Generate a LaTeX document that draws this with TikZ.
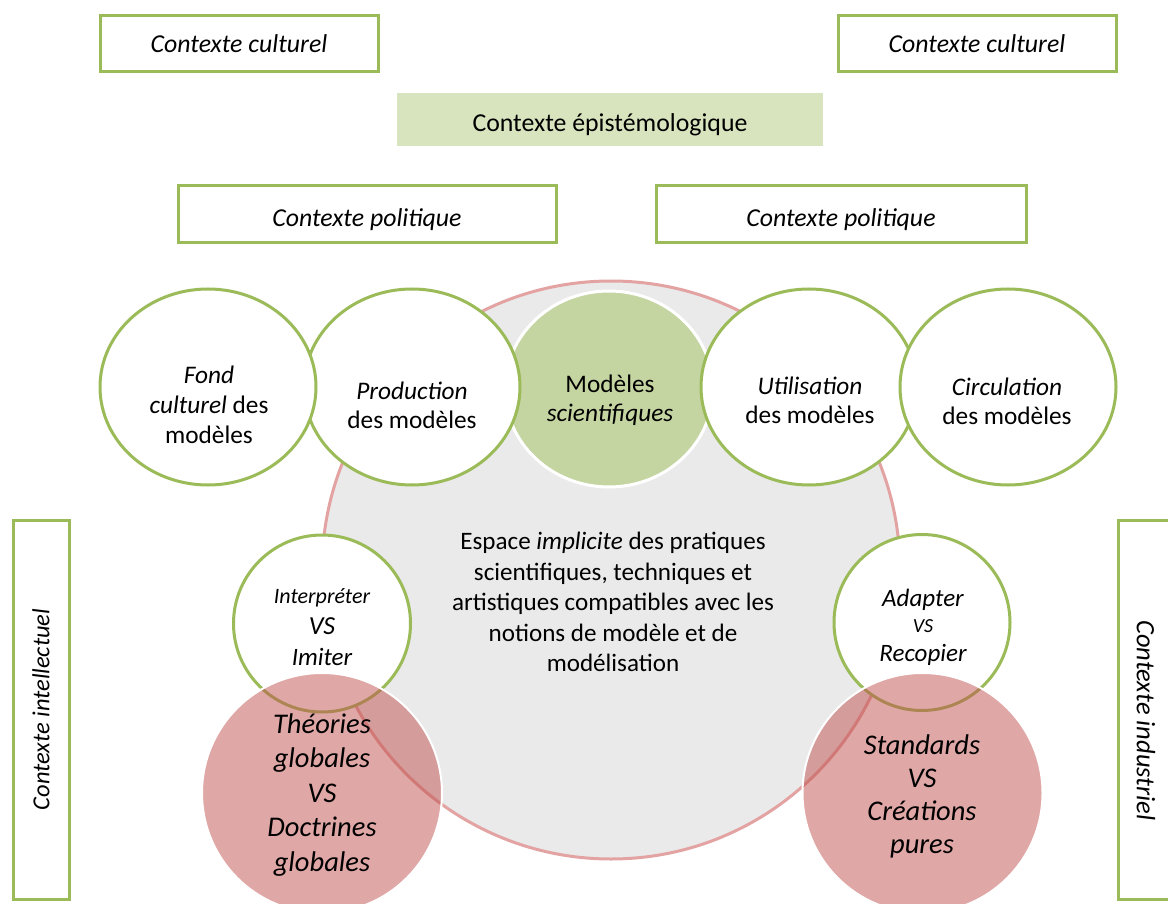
\documentclass[tikz,border=0pt]{standalone}
\usepackage{fontspec}
\setmainfont{Carlito}
\usetikzlibrary{shapes.geometric}
\definecolor{vert}{HTML}{9BBB59}
\definecolor{vertpale}{HTML}{D7E4BD}
\definecolor{vertmod}{HTML}{C5D5A2}
\definecolor{gris}{HTML}{EAEAEA}
\definecolor{rosebord}{HTML}{E4A3A3}
\definecolor{rouge}{HTML}{C0504D}
\begin{document}
\begin{tikzpicture}[x=1pt,y=-1pt,
  ctx/.style={draw=vert,line width=3pt,fill=white,inner sep=0pt,font=\fontsize{25.8}{30}\selectfont\itshape},
  bulle/.style={ellipse,draw=vert,line width=3pt,fill=white,inner sep=0pt,minimum width=216pt,minimum height=196pt},
  petit/.style={circle,draw=vert,line width=3pt,fill=white,inner sep=0pt,minimum size=177pt},
  rose/.style={circle,fill=rouge,fill opacity=0.5,draw=white,line width=2pt,inner sep=0pt,minimum size=240pt},
  txt/.style={align=center,inner sep=0pt,font=\fontsize{25.3}{29}\selectfont},
  grand/.style={align=center,inner sep=0pt,font=\fontsize{28.5}{34.5}\selectfont\itshape}
]
\useasboundingbox (0,0) rectangle (1168,904);
% context boxes
\node[ctx,minimum width=278pt,minimum height=56pt] (cc1) at (239,44) {Contexte culturel};
\node[ctx,minimum width=278pt,minimum height=56pt] (cc2) at (977,44) {Contexte culturel};
\node[fill=vertpale,inner sep=0pt,minimum width=426pt,minimum height=53pt,text height=30pt,text depth=5pt,font=\fontsize{25.8}{30}\selectfont] (epi) at (610,119.5) {Contexte épistémologique};
\node[ctx,minimum width=378pt,minimum height=57pt,text height=31pt,text depth=6pt] (cp1) at (367,214.5) {Contexte politique};
\node[ctx,minimum width=370pt,minimum height=57pt,text height=31pt,text depth=6pt] (cp2) at (841,214.5) {Contexte politique};
\node[ctx,minimum width=379pt,minimum height=56pt,rotate=90,font=\fontsize{24.5}{30}\selectfont\itshape] (ci) at (41,709.5) {Contexte intellectuel};
\node[ctx,minimum width=379pt,minimum height=56pt,rotate=-90,font=\fontsize{26.5}{30}\selectfont\itshape] (cind) at (1146,709.5) {\hspace{22pt}Contexte industriel};
% big implicit space
\node[circle,fill=gris,draw=rosebord,line width=3pt,minimum size=578pt,inner sep=0pt] (espace) at (611,570) {};
% top circles
\node[ellipse,fill=vertmod,draw=white,line width=3pt,minimum width=208pt,minimum height=196pt,inner sep=0pt] (modeles) at (609,389) {};
\node[bulle] (prod) at (412,387) {};
\node[bulle] (fond) at (208,387) {};
\node[bulle] (util) at (809,387) {};
\node[bulle] (circ) at (1008,387) {};
\node[txt,font=\fontsize{25.3}{30}\selectfont] (fondt) at (209,405) {\itshape Fond\\\itshape culturel\upshape{} des\\modèles};
\node[txt] (prodt) at (412,405) {\itshape Production\\des modèles};
\node[txt] (modt) at (610,400) {Modèles\\\itshape scientifiques};
\node[txt] (utilt) at (810,400) {\itshape Utilisation\\des modèles};
\node[txt] (circt) at (1007,401) {\itshape Circulation\\des modèles};
% central text
\node[txt,font=\fontsize{25.1}{30.5}\selectfont] (espt) at (613,602) {Espace \textit{implicite} des pratiques\\scientifiques, techniques et\\artistiques compatibles avec les\\notions de modèle et de\\modélisation};
% small circles
\node[petit] (interp) at (322,623.5) {};
\node[petit,minimum size=176pt] (adapt) at (922,622.5) {};
\node[txt,font=\fontsize{25}{31}\selectfont\itshape] (interpt) at (322,627) {\fontsize{22}{26}\selectfont Interpréter\\\fontsize{26}{31}\selectfont VS\\\fontsize{25}{31}\selectfont Imiter};
\node[txt,font=\fontsize{25}{29}\selectfont\itshape] (adaptt) at (923,627) {\fontsize{25}{29}\selectfont Adapter\\[-3pt]\fontsize{20}{24}\selectfont VS\\\fontsize{25}{29}\selectfont Recopier};
% pink circles
\node[rose] (theo) at (322,793) {};
\node[rose] (stand) at (922.5,793) {};
\node[grand] (theot) at (322,795) {Théories\\globales\\VS\\Doctrines\\globales};
\node[grand,font=\fontsize{28.5}{33}\selectfont\itshape] (standt) at (922,796) {Standards\\VS\\Créations\\pures};
\end{tikzpicture}
\end{document}
